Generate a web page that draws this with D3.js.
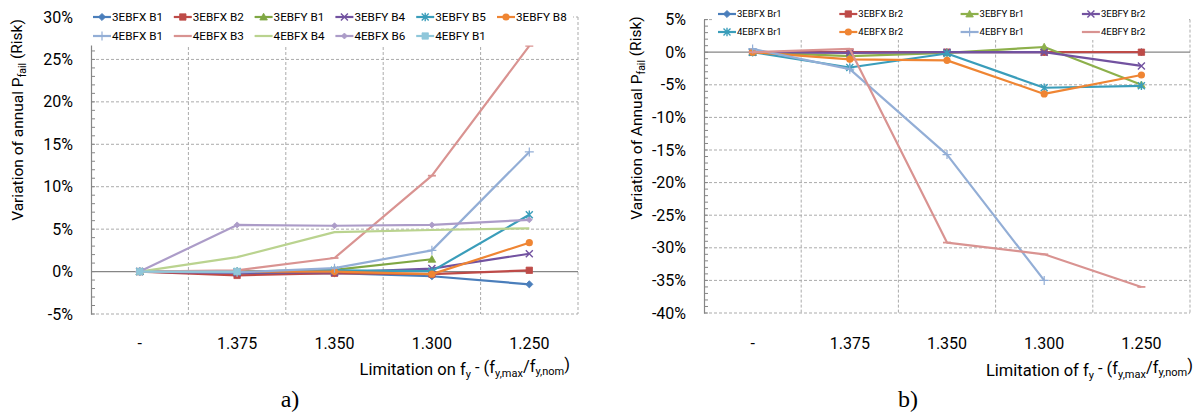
<!DOCTYPE html>
<html><head><meta charset="utf-8">
<script src="https://cdn.jsdelivr.net/npm/d3@7"></script>
<style>
body{margin:0;background:#fff}
svg text{font-family:Roboto,"Noto Sans",sans-serif;fill:#000}
</style>
</head><body>
<svg id="c" width="1202" height="414"></svg>
<script>
// ---------- data ----------
const categories = ["-", "1.375", "1.350", "1.300", "1.250"];
const yTicksA = [-5, 0, 5, 10, 15, 20, 25, 30];
const yTicksB = [-40, -35, -30, -25, -20, -15, -10, -5, 0, 5];

// panel a) values in %
const a_3EBFX_B1 = [0, -0.25, -0.2, -0.55, -1.5];
const a_3EBFX_B2 = [0, -0.45, -0.2, -0.3, 0.15];
const a_3EBFY_B1 = [0, 0, 0.2, 1.45, null];
const a_3EBFY_B4 = [0, -0.15, -0.1, 0.35, 2.1];
const a_3EBFY_B5 = [0, 0, 0.15, 0.05, 6.7];
const a_3EBFY_B8 = [0, 0, 0, -0.3, 3.4];
const a_4EBFX_B1 = [0, -0.1, 0.4, 2.5, 14.1];
const a_4EBFX_B3 = [0, 0.15, 1.6, 11.3, 26.6];
const a_4EBFX_B4 = [0, 1.7, 4.65, 4.9, 5.1];
const a_4EBFX_B6 = [0, 5.5, 5.4, 5.5, 6.1];
const a_4EBFY_B1 = [0, 0, null, null, null];
const namesA = ["3EBFX B1","3EBFX B2","3EBFY B1","3EBFY B4","3EBFY B5","3EBFY B8",
                "4EBFX B1","4EBFX B3","4EBFX B4","4EBFX B6","4EBFY B1"];
const valuesA = [a_3EBFX_B1,a_3EBFX_B2,a_3EBFY_B1,a_3EBFY_B4,a_3EBFY_B5,a_3EBFY_B8,
                 a_4EBFX_B1,a_4EBFX_B3,a_4EBFX_B4,a_4EBFX_B6,a_4EBFY_B1];

// panel b) values in %
const b_3EBFX_Br1 = [0, 0, 0, 0, 0];
const b_3EBFX_Br2 = [0, 0, 0, 0, 0];
const b_3EBFY_Br1 = [0, -0.6, -0.1, 0.8, -5.0];
const b_3EBFY_Br2 = [0, -0.1, 0, 0, -2.1];
const b_4EBFX_Br1 = [0, -2.35, -0.2, -5.45, -5.15];
const b_4EBFX_Br2 = [0, -1.1, -1.25, -6.4, -3.5];
const b_4EBFY_Br1 = [0.5, -2.6, -15.7, -35.0, null];
const b_4EBFY_Br2 = [0, 0.5, -29.2, -31.0, -36.0];
const namesB = ["3EBFX Br1","3EBFX Br2","3EBFY Br1","3EBFY Br2",
                "4EBFX Br1","4EBFX Br2","4EBFY Br1","4EBFY Br2"];
const valuesB = [b_3EBFX_Br1,b_3EBFX_Br2,b_3EBFY_Br1,b_3EBFY_Br2,
                 b_4EBFX_Br1,b_4EBFX_Br2,b_4EBFY_Br1,b_4EBFY_Br2];

// ---------- styles ----------
const stylesA = [
  {c:"#4A7EBB", m:"diamond"}, {c:"#BE4B48", m:"square"}, {c:"#7FA743", m:"triangle"},
  {c:"#7252A0", m:"x"}, {c:"#3A9DBA", m:"star"}, {c:"#EF8533", m:"circle"},
  {c:"#93AED6", m:"plus"}, {c:"#D99391", m:"dash"}, {c:"#BAD38F", m:"none"},
  {c:"#AC9CC8", m:"sdiamond"}, {c:"#8FC7DA", m:"square"}
];
const stylesB = [
  {c:"#4A7EBB", m:"diamond"}, {c:"#BE4B48", m:"square"}, {c:"#8DB04B", m:"triangle"},
  {c:"#7252A0", m:"x"}, {c:"#3A9DBA", m:"star"}, {c:"#EF8533", m:"circle"},
  {c:"#93AED6", m:"plus"}, {c:"#D99391", m:"dash"}
];

const svg = d3.select("#c");

function drawMarker(g, type, color) {
  const fillPath = d => g.append("path").attr("d", d).attr("fill", color).attr("stroke", color).attr("stroke-width", 0.8);
  const strokePath = (d, w) => g.append("path").attr("d", d).attr("fill", "none").attr("stroke", color).attr("stroke-width", w || 1.4);
  switch (type) {
    case "diamond": fillPath("M0,-3.6L3.6,0L0,3.6L-3.6,0Z"); break;
    case "sdiamond": fillPath("M0,-3L3,0L0,3L-3,0Z"); break;
    case "square": fillPath("M-3.2,-3.2H3.2V3.2H-3.2Z"); break;
    case "triangle": fillPath("M0,-3.8L3.8,3L-3.8,3Z"); break;
    case "circle": g.append("circle").attr("r", 3.6).attr("fill", color); break;
    case "x": strokePath("M-3.5,-3.5L3.5,3.5M-3.5,3.5L3.5,-3.5"); break;
    case "star": strokePath("M-3.5,-3.5L3.5,3.5M-3.5,3.5L3.5,-3.5M0,-4.2V4.2"); break;
    case "plus": strokePath("M-4.5,0H4.5M0,-4.5V4.5", 1.2); break;
    case "dash": strokePath("M-4,0H4", 1.8); break;
  }
}

function subText(t, parts, subSize) {
  let prevSub = false;
  parts.forEach(([s, sub]) => {
    const ts = t.append("tspan").text(s);
    if (sub && !prevSub) ts.attr("dy", "0.3em").attr("font-size", subSize);
    else if (sub) ts.attr("font-size", subSize);
    else if (!sub && prevSub) ts.attr("dy", "-0.3em");
    prevSub = sub;
  });
}

function drawChart(o) {
  const g = svg.append("g");
  const x = d3.scaleBand().domain(categories).range([o.x0, o.x1]).padding(0);
  const y = d3.scaleLinear().domain(o.yDomain).range([o.yBottom, o.yTop]);
  const grid = "#ABABAB";

  g.append("g").selectAll("line").data(o.yTicks.filter(d => d !== 0)).join("line")
    .attr("x1", o.x0).attr("x2", o.x1).attr("y1", d => y(d)).attr("y2", d => y(d))
    .attr("stroke", grid).attr("stroke-dasharray", "3,2").attr("stroke-width", 1);
  g.append("g").selectAll("line").data(categories).join("line")
    .attr("x1", d => x(d) + x.bandwidth()).attr("x2", d => x(d) + x.bandwidth())
    .attr("y1", o.yTop).attr("y2", o.yBottom)
    .attr("stroke", grid).attr("stroke-dasharray", "3,2").attr("stroke-width", 1);

  const yAxis = g.append("g").attr("transform", `translate(${o.x0},0)`)
    .call(d3.axisLeft(y).tickValues(o.yTicks).tickFormat(d => d + "%").tickSize(0).tickPadding(18));
  yAxis.select(".domain").attr("stroke", "#868686").attr("stroke-width", 1.2);
  yAxis.selectAll("text").attr("font-size", 16).attr("font-family", "Roboto");
  const minor = d3.range(o.yDomain[0], o.yDomain[1] + 0.001, 1);
  g.append("g").selectAll("line").data(minor).join("line")
    .attr("x1", o.x0).attr("x2", o.x0 + 4).attr("y1", d => y(d)).attr("y2", d => y(d))
    .attr("stroke", "#868686").attr("stroke-width", 1);

  g.append("line").attr("x1", o.x0).attr("x2", o.x1).attr("y1", y(0)).attr("y2", y(0))
    .attr("stroke", "#868686").attr("stroke-width", 1.2);
  const xAxis = g.append("g").attr("transform", `translate(0,${o.labelY})`)
    .call(d3.axisBottom(x).tickSize(0).tickPadding(0));
  xAxis.select(".domain").remove();
  xAxis.selectAll("text").attr("font-size", 16).attr("font-family", "Roboto").attr("dy", 0);

  const line = d3.line().defined(d => d.v !== null).x(d => x(d.c) + x.bandwidth() / 2).y(d => y(d.v));
  o.values.forEach((vals, i) => {
    const st = o.styles[i];
    const pts = vals.map((v, j) => ({c: categories[j], v}));
    g.append("path").datum(pts).attr("d", line).attr("fill", "none")
      .attr("stroke", st.c).attr("stroke-width", 2.2).attr("stroke-linejoin", "round");
    pts.filter(p => p.v !== null).forEach(p => {
      const mg = g.append("g").attr("transform", `translate(${x(p.c) + x.bandwidth() / 2},${y(p.v)})`);
      drawMarker(mg, st.m, st.c);
    });
  });

  const lg = g.append("g");
  lg.append("rect").attr("x", o.leg.x - 4).attr("y", o.leg.y - o.leg.dy / 2 - 2)
    .attr("width", o.leg.w).attr("height", o.leg.h).attr("fill", "#fff");
  o.names.forEach((n, i) => {
    const col = i % o.leg.cols, row = Math.floor(i / o.leg.cols);
    const it = lg.append("g").attr("transform", `translate(${o.leg.x + col * o.leg.dx},${o.leg.y + row * o.leg.dy})`);
    it.append("line").attr("x1", 0).attr("x2", 18).attr("stroke", o.styles[i].c).attr("stroke-width", 2.2);
    const mg = it.append("g").attr("transform", "translate(9,0)");
    drawMarker(mg, o.styles[i].m, o.styles[i].c);
    it.append("text").attr("x", 19).attr("dy", "0.35em").attr("font-size", o.leg.fs).text(n);
  });

  const yt = g.append("text").attr("transform", `translate(${o.yTitle.x},${o.yTitle.y}) rotate(-90)`)
    .attr("text-anchor", "middle").attr("font-size", 15.5);
  subText(yt, [[o.yTitle.t1, false], ["fail", true], [" (Risk)", false]], 10.5);

  // x title: right-aligned to target edge via measured width
  const xt = g.append("text").attr("x", 0).attr("y", o.xTitle.y)
    .attr("text-anchor", "start").attr("font-size", 16.5);
  subText(xt, [[o.xTitle.t1, false], ["y", true], [" - (f", false], ["y,max", true], ["/f", false], ["y,nom", true], [")", false]], 11);
  const bb = xt.node().getBBox();
  xt.attr("x", o.xTitle.x - bb.width);

  g.append("text").attr("x", o.panel.x).attr("y", o.panel.y).attr("text-anchor", "middle")
    .style("font-family", "'Liberation Serif',serif")
    .attr("font-size", 24).text(o.panel.t);
}

drawChart({
  x0: 91, x1: 578, yTop: 17, yBottom: 314, yDomain: [-5, 30], yTicks: yTicksA, labelY: 349,
  values: valuesA, styles: stylesA, names: namesA,
  leg: {x: 93, y: 17, dx: 80.8, dy: 19, cols: 6, w: 484, h: 40, fs: 11.7},
  yTitle: {x: 23, y: 120, t1: "Variation of annual P"},
  xTitle: {x: 570, y: 375, t1: "Limitation on f"},
  panel: {x: 290, y: 407, t: "a)"}
});
drawChart({
  x0: 704, x1: 1190, yTop: 19.6, yBottom: 313, yDomain: [-40, 5], yTicks: yTicksB, labelY: 349,
  values: valuesB, styles: stylesB, names: namesB,
  leg: {x: 718, y: 14, dx: 121.3, dy: 18, cols: 4, w: 474, h: 37, fs: 9.5},
  yTitle: {x: 642, y: 118, t1: "Variation of Annual P"},
  xTitle: {x: 1193, y: 376, t1: "Limitation of f"},
  panel: {x: 908, y: 407, t: "b)"}
});
</script>
</body></html>
